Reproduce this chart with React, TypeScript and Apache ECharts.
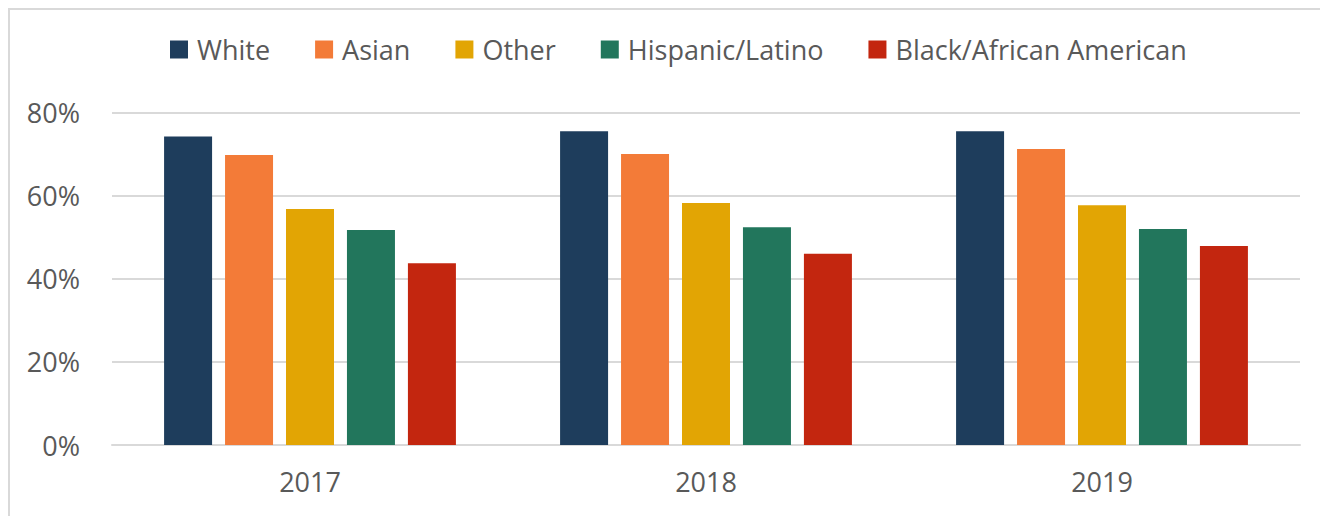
import React, { useEffect, useRef } from "react";
import * as echarts from "echarts";

const categories = ["2017", "2018", "2019"];
const seriesNames = ["White", "Asian", "Other", "Hispanic/Latino", "Black/African American"];
const white = [74.2, 75.5, 75.5];
const asian = [69.8, 70.0, 71.2];
const other = [56.8, 58.2, 57.7];
const hispanic = [51.7, 52.4, 52.0];
const black = [43.7, 46.0, 47.9];
const colors = ["#1e3d5c", "#f37b38", "#e2a504", "#22765c", "#c3260f"];

export default function App() {
  const ref = useRef<HTMLDivElement>(null);
  useEffect(() => {
    if (!ref.current) return;
    const chart = echarts.init(ref.current, null, { renderer: "svg" });
    const values = [white, asian, other, hispanic, black];
    const font = "'Open Sans', sans-serif";
    chart.setOption({
      animation: false,
      textStyle: { fontFamily: font },
      legend: {
        top: 21,
        left: 155,
        itemWidth: 18,
        itemHeight: 18,
        itemGap: 45,
        icon: "rect",
        textStyle: { fontSize: 27, color: "#595959", fontFamily: font, padding: [0, 0, 0, 4] },
        data: seriesNames,
      },
      grid: { left: 102, right: 28, top: 102.5, bottom: 71, containLabel: false },
      xAxis: {
        type: "category",
        data: categories,
        axisLine: { show: true, lineStyle: { color: "#d9d9d9", width: 2 } },
        axisTick: { show: false },
        axisLabel: { fontSize: 27, color: "#595959", margin: 23, fontFamily: font },
      },
      yAxis: {
        type: "value",
        min: 0,
        max: 80,
        interval: 20,
        axisLine: { show: false },
        axisTick: { show: false },
        splitLine: { lineStyle: { color: "#d9d9d9", width: 2 } },
        axisLabel: { formatter: "{value}%", fontSize: 27, color: "#595959", margin: 32, fontFamily: font, padding: [0, 0, 6, 0] },
      },
      series: seriesNames.map((name, i) => ({
        name,
        type: "bar",
        data: values[i],
        barWidth: 48,
        barGap: "27%",
        itemStyle: { color: colors[i] },
      })),
    });
    return () => chart.dispose();
  }, []);
  return (
    <div style={{ width: 1320, height: 508, boxSizing: "border-box", borderTop: "2px solid #d9d9d9", borderLeft: "2px solid #d9d9d9", background: "#fff" }}>
      <div ref={ref} style={{ width: 1318, height: 506 }} />
    </div>
  );
}
